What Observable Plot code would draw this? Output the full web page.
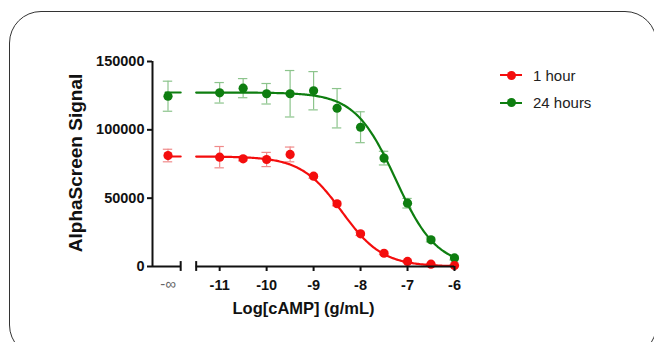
<!DOCTYPE html>
<html>
<head>
<meta charset="utf-8">
<script src="https://cdn.jsdelivr.net/npm/d3@7"></script>
<script src="https://cdn.jsdelivr.net/npm/@observablehq/plot@0.6"></script>
<style>
  html, body { margin: 0; padding: 0; background: #fff; overflow: hidden; }
  #wrap { position: relative; width: 654px; height: 342px; font-family: "Liberation Sans", Arial, sans-serif; }
  #frame { position: absolute; left: 9px; top: 11px; width: 648px; height: 346px; border: 1.5px solid #333; border-radius: 32px; box-sizing: border-box; }
  #chart { position: absolute; left: 0; top: 0; }
  #legend { position: absolute; left: 500px; top: 61.5px; font-size: 15px; color: #222; }
  .item { display: flex; align-items: center; height: 27.5px; }
  .sw { position: relative; width: 22px; height: 10px; margin-right: 11px; }
  .sw .ln { position: absolute; left: 0; right: 0; top: 4px; height: 2px; }
  .sw .dt { position: absolute; left: 6.5px; top: 0.5px; width: 9px; height: 9px; border-radius: 50%; }
</style>
</head>
<body>
<div id="wrap">
  <div id="frame"></div>
  <div id="chart"></div>
  <div id="legend"></div>
</div>
<script>
// ---- data ----
const doses = [-Infinity, -11, -10.5, -10, -9.5, -9, -8.5, -8, -7.5, -7, -6.5, -6];
const series = ["1 hour", "24 hours"];
const colors = ["#f40d0d", "#0e7e10"];
const errColors = ["#f08a8a", "#8cc48c"];
const hour1Mean = [81200, 80000, 78800, 78300, 82000, 66100, 45900, 23900, 9700, 3700, 1700, 700];
const hour1Err  = [4600, 7800, 1500, 5200, 5400, 1500, 1500, 1200, 1000, 800, 500, 500];
const hour24Mean = [124600, 127100, 130500, 126400, 126400, 128600, 115800, 101900, 79300, 46300, 19500, 6300];
const hour24Err  = [11000, 7500, 7000, 7500, 17000, 14000, 14400, 11300, 5000, 3500, 1500, 1500];
// four-parameter logistic fits: [top, bottom, logIC50, hill]
const hour1Fit = [80500, 0, -8.4, 1.0];
const hour24Fit = [127300, 0, -7.25, 1.0];
const yTicks = [0, 50000, 100000, 150000];
const xTicks = [-11, -10, -9, -8, -7, -6];

// ---- axis layout (data units) ----
const xMin = -12.43, xMax = -6;
const negInfPos = -12.1;     // where the -∞ group sits
const breakLeft = -11.83, breakRight = -11.5;
const capHalf = 0.1;

const fitFn = ([top, bottom, ic, h]) => x => bottom + (top - bottom) / (1 + Math.pow(10, h * (x - ic)));

const pts = [];
[[hour1Mean, hour1Err], [hour24Mean, hour24Err]].forEach(([m, e], si) => {
  doses.forEach((d, i) => pts.push({s: series[si], x: d === -Infinity ? negInfPos : d, y: m[i], e: e[i]}));
});
const curves = [];
[hour1Fit, hour24Fit].forEach((p, si) => {
  const f = fitFn(p);
  const n = 220;
  for (let k = 0; k <= n; k++) {
    const x = breakRight + (xMax - breakRight) * k / n;
    curves.push({s: series[si], part: "main", x, y: f(x)});
  }
  curves.push({s: series[si], part: "inf", x: negInfPos - 0.05, y: p[0]});
  curves.push({s: series[si], part: "inf", x: breakLeft, y: p[0]});
});

const order = [1, 0]; // draw 24 hours first, 1 hour on top
const layers = [];
order.forEach(si => {
  const s = series[si];
  const P = pts.filter(d => d.s === s);
  const C = curves.filter(d => d.s === s);
  layers.push(
    Plot.ruleX(P, {x: "x", y1: d => d.y - d.e, y2: d => d.y + d.e, stroke: errColors[si], strokeWidth: 1.2}),
    Plot.ruleY(P, {y: d => d.y - d.e, x1: d => d.x - capHalf, x2: d => d.x + capHalf, stroke: errColors[si], strokeWidth: 1.2}),
    Plot.ruleY(P, {y: d => d.y + d.e, x1: d => d.x - capHalf, x2: d => d.x + capHalf, stroke: errColors[si], strokeWidth: 1.2}),
    Plot.line(C, {x: "x", y: "y", z: "part", stroke: colors[si], strokeWidth: 2.2, curve: "linear"}),
    Plot.dot(P, {x: "x", y: "y", r: 4.6, fill: colors[si], stroke: "none"})
  );
});

const axisSegments = [{x1: xMin, x2: breakLeft}, {x1: breakRight, x2: xMax}];

const chart = Plot.plot({
  width: 654,
  height: 342,
  marginLeft: 152,
  marginRight: 200,
  marginTop: 61,
  marginBottom: 76,
  style: {fontFamily: "'Liberation Sans', Arial, sans-serif", background: "transparent", overflow: "visible"},
  x: {domain: [xMin, xMax]},
  y: {domain: [0, 150000]},
  marks: [
    ...layers,
    // y axis
    Plot.ruleX([xMin], {y1: 0, y2: 150000, stroke: "#111", strokeWidth: 2}),
    Plot.axisY({ticks: yTicks, tickSize: 5, tickPadding: 3, tickFormat: d => String(d), fontSize: 14.5, fontWeight: "bold", fill: "#111", stroke: "#111", strokeWidth: 2, label: null}),
    // broken x axis
    Plot.ruleY(axisSegments, {y: 0, x1: "x1", x2: "x2", stroke: "#111", strokeWidth: 2}),
    Plot.ruleX([breakLeft, breakRight], {y1: -3600, y2: 3600, stroke: "#111", strokeWidth: 2}),
    Plot.axisX({ticks: xTicks, tickSize: 5, tickPadding: 8, tickFormat: d => String(d), fontSize: 14.5, fontWeight: "bold", fill: "#111", stroke: "#111", strokeWidth: 2, label: null}),
    Plot.axisX({ticks: [negInfPos], tickSize: 0, tickPadding: 12, tickFormat: () => "-\u221e", fontSize: 15, fill: "#666", label: null}),
    // axis titles
    Plot.text(["Log[cAMP] (g/mL)"], {frameAnchor: "bottom", dy: 42, fontSize: 16.5, fontWeight: "bold", fill: "#111", textAnchor: "middle", lineAnchor: "middle"}),
    Plot.text(["AlphaScreen Signal"], {frameAnchor: "left", dx: -77, dy: -1, rotate: -90, fontSize: 19, fontWeight: "bold", fill: "#111", textAnchor: "middle", lineAnchor: "middle"})
  ]
});
document.getElementById("chart").appendChild(chart);

const legend = document.getElementById("legend");
series.forEach((s, i) => {
  const it = document.createElement("div");
  it.className = "item";
  it.innerHTML = `<div class="sw"><div class="ln" style="background:${colors[i]}"></div><div class="dt" style="background:${colors[i]}"></div></div><span>${s}</span>`;
  legend.appendChild(it);
});
</script>
</body>
</html>
